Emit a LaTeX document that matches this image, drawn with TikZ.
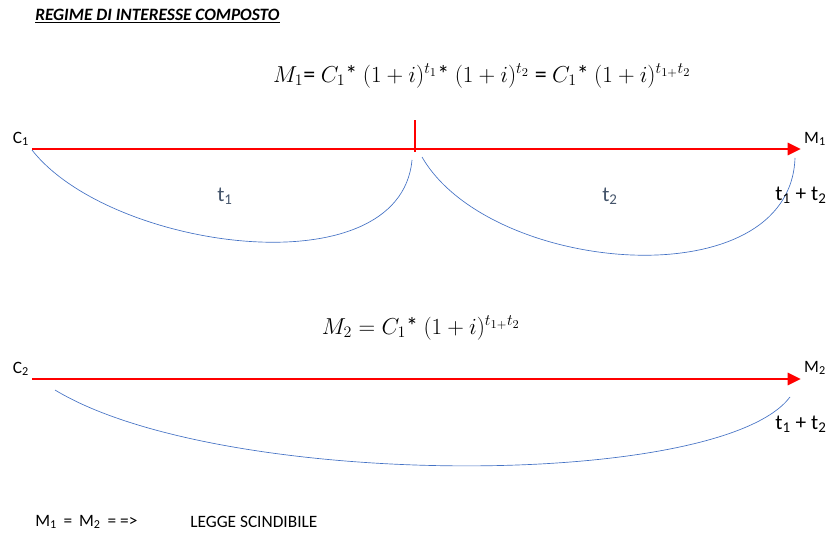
\documentclass[tikz,border=0pt]{standalone}
\usepackage{fontspec}
\setmainfont{Carlito}
\usepackage{amsmath}
\usetikzlibrary{arrows.meta}
\definecolor{rosso}{RGB}{255,0,0}
\definecolor{blu}{RGB}{68,114,196}
\definecolor{ardesia}{RGB}{68,84,106}
\tikzset{
  asse/.style={draw=rosso,line width=2.2pt,-{Triangle[length=10pt,width=9pt]}},
  tacca/.style={draw=rosso,line width=2.2pt},
  arco/.style={draw=blu,line width=0.5pt},
  etic/.style={inner sep=0pt,font=\fontsize{13}{15}\selectfont},
  tempo/.style={inner sep=0pt,font=\fontsize{16}{18}\selectfont},
  formula/.style={inner sep=0pt,font=\fontsize{18}{21}\selectfont}
}
\begin{document}
\begin{tikzpicture}[x=0.75pt,y=-0.75pt]
\useasboundingbox (0,0) rectangle (829,535);
% titolo
\node[etic,anchor=west] (titolo) at (35,16) {\bfseries\itshape\underline{REGIME DI INTERESSE COMPOSTO}};
% primo caso
\node[formula] (f1) at (482,76) {$M_1$= $C_1$* $(1+i)^{t_1}$* $(1+i)^{t_2}$ = $C_1$* $(1+i)^{t_{1+}t_2}$};
\node[etic] (c1) at (21,139) {C\textsubscript{1}};
\node[etic] (m1) at (815,139) {M\textsubscript{1}};
\coordinate (s1) at (32,149);
\coordinate (e1) at (801,149);
\coordinate (mid) at (415,152);
\coordinate (top) at (415,120);
\draw[asse] (s1) -- (e1);
\draw[tacca] (mid) -- (top);
\coordinate (a1) at (32,150);
\coordinate (b1) at (412,160);
\coordinate (a2) at (422,157);
\coordinate (b2) at (795,158);
\draw[arco] (a1) .. controls (110,250) and (400,290) .. (b1);
\draw[arco] (a2) .. controls (490,275) and (790,300) .. (b2);
\node[tempo,text=ardesia] (t1) at (225,196) {t\textsubscript{1}};
\node[tempo,text=ardesia] (t2) at (610,196) {t\textsubscript{2}};
\node[tempo] (t12a) at (801,195) {t\textsubscript{1} + t\textsubscript{2}};
% secondo caso
\node[formula] (f2) at (421,328) {$M_2 = C_1$* $(1+i)^{t_{1+}t_2}$};
\node[etic] (c2) at (21,369) {C\textsubscript{2}};
\node[etic] (m2) at (815,368) {M\textsubscript{2}};
\coordinate (s2) at (32,379);
\coordinate (e2) at (801,379);
\draw[asse] (s2) -- (e2);
\coordinate (a3) at (55,390);
\coordinate (b3) at (790,397);
\draw[arco] (a3) .. controls (220,490) and (720,490) .. (b3);
\node[tempo] (t12b) at (801,424) {t\textsubscript{1} + t\textsubscript{2}};
% conclusione
\node[etic,anchor=west] (uguale) at (35,522) {M\textsubscript{1}\, =\, M\textsubscript{2}\,~= =>};
\node[etic,anchor=west] (legge) at (190,522) {LEGGE SCINDIBILE};
\end{tikzpicture}
\end{document}
